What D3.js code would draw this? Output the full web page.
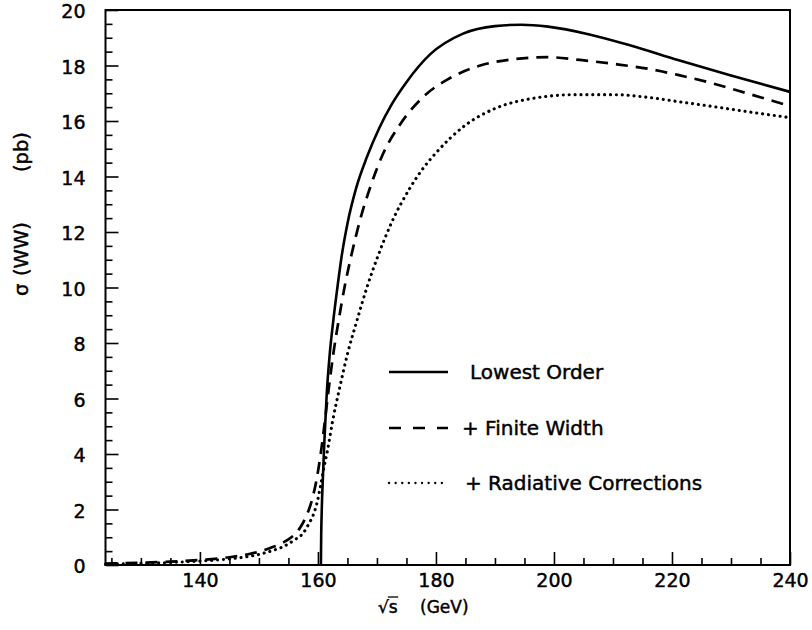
<!DOCTYPE html>
<html>
<head>
<meta charset="utf-8">
<script src="https://cdn.jsdelivr.net/npm/d3@7"></script>
<style>
  html, body { margin: 0; padding: 0; background: #fff; }
  svg text { font-family: "DejaVu Sans", "Liberation Sans", Arial, sans-serif; fill: #000; stroke: #000; stroke-width: 0.45px; }
</style>
</head>
<body>
<svg id="chart" width="812" height="630"></svg>
<script>
// Centre-of-mass energy sqrt(s) in GeV and sigma(WW) in pb for each curve
const lowestOrderX = [160.5, 160.55, 160.65, 160.85, 161.1, 161.5, 162.0, 162.6, 163.3, 164.0, 165.0, 166.5, 168.3, 170.4, 172.5, 175, 179, 184.6, 190, 194.5, 199, 206, 213, 221, 230, 240];
const lowestOrderY = [0, 1.0, 2.0, 3.2, 4.5, 6.2, 7.6, 8.8, 10.0, 11.1, 12.3, 13.6, 14.7, 15.75, 16.6, 17.4, 18.4, 19.15, 19.42, 19.47, 19.4, 19.12, 18.72, 18.2, 17.64, 17.05];

const finiteWidthX = [124, 130, 135, 140, 145, 148, 150, 152, 154, 155.5, 157, 158, 159, 159.7, 160.4, 160.9, 161.8, 162.6, 163.5, 164.5, 165.6, 167.1, 169, 171, 174, 178, 182, 187.5, 193, 199, 204.4, 210, 216, 221, 227, 233, 240];
const finiteWidthY = [0.05, 0.08, 0.12, 0.18, 0.28, 0.38, 0.48, 0.62, 0.8, 1.0, 1.35, 1.75, 2.35, 3.0, 3.9, 4.7, 6.3, 7.6, 8.8, 10.0, 11.1, 12.4, 13.7, 14.8, 15.9, 16.9, 17.5, 18.0, 18.22, 18.3, 18.2, 18.06, 17.88, 17.66, 17.35, 16.98, 16.54];

const radiativeX = [124, 130, 135, 140, 145, 148, 150, 152, 154, 156, 157.5, 158.5, 159.2, 159.8, 160.4, 161, 161.6, 162.5, 163.7, 165, 166.6, 168.3, 170.2, 172.5, 175.5, 177.5, 180, 185, 190, 196, 204, 210, 216, 221, 227, 233, 240];
const radiativeY = [0.03, 0.06, 0.09, 0.14, 0.22, 0.3, 0.38, 0.5, 0.65, 0.9, 1.15, 1.5, 1.8, 2.2, 2.8, 3.5, 4.1, 5.2, 6.4, 7.6, 8.8, 10.0, 11.15, 12.35, 13.55, 14.2, 14.85, 15.85, 16.45, 16.8, 16.95, 16.95, 16.85, 16.7, 16.52, 16.33, 16.12];

const xTickValues = [140, 160, 180, 200, 220, 240];
const yTickValues = [0, 2, 4, 6, 8, 10, 12, 14, 16, 18, 20];
const legendLabels = ["Lowest Order", "+ Finite Width", "+ Radiative Corrections"];

const svg = d3.select("#chart");
const x = d3.scaleLinear().domain([124, 240]).range([105.5, 790]);
const y = d3.scaleLinear().domain([0, 20]).range([565, 10]);

// minor ticks every 5 GeV and every 0.5 pb
const xMinor = d3.range(125, 240, 5).filter(v => v % 20 !== 0);
const yMinor = d3.range(0.5, 20, 0.5).filter(v => v % 2 !== 0);

const axisStyle = g => {
  g.select(".domain").remove();
  g.selectAll(".tick line").attr("stroke", "#000").attr("stroke-width", 1.6);
};

svg.append("g")
  .attr("transform", `translate(0,${y(0)})`)
  .call(d3.axisBottom(x).tickValues(xMinor).tickSize(-7).tickFormat(""))
  .call(axisStyle);
svg.append("g")
  .attr("transform", `translate(${x.range()[0]},0)`)
  .call(d3.axisLeft(y).tickValues(yMinor).tickSize(-7).tickFormat(""))
  .call(axisStyle);

const xAxis = svg.append("g")
  .attr("transform", `translate(0,${y(0)})`)
  .call(d3.axisBottom(x).tickValues(xTickValues).tickSize(-13).tickPadding(9).tickFormat(d3.format("d")))
  .call(axisStyle);
xAxis.selectAll("text").attr("font-size", 19).attr("font-family", null);

const yAxis = svg.append("g")
  .attr("transform", `translate(${x.range()[0]},0)`)
  .call(d3.axisLeft(y).tickValues(yTickValues).tickSize(-13).tickPadding(20).tickFormat(d3.format("d")))
  .call(axisStyle);
yAxis.selectAll("text").attr("font-size", 19).attr("font-family", null).attr("dy", "0.42em");

// curves
const line = d3.line().x(d => x(d[0])).y(d => y(d[1])).curve(d3.curveMonotoneX);
const series = [
  { xs: lowestOrderX, ys: lowestOrderY, dash: null, width: 2.6, cap: "butt" },
  { xs: finiteWidthX, ys: finiteWidthY, dash: "12 8", width: 2.7, cap: "butt" },
  { xs: radiativeX, ys: radiativeY, dash: "0.1 5.8", width: 3.1, cap: "round" }
];
const plot = svg.append("g");
series.forEach(s => {
  plot.append("path")
    .datum(d3.zip(s.xs, s.ys))
    .attr("fill", "none")
    .attr("stroke", "#000")
    .attr("stroke-width", s.width)
    .attr("stroke-linecap", s.cap)
    .attr("stroke-dasharray", s.dash)
    .attr("d", line);
});

// frame
svg.append("rect")
  .attr("x", x.range()[0]).attr("y", y.range()[1])
  .attr("width", x.range()[1] - x.range()[0])
  .attr("height", y.range()[0] - y.range()[1])
  .attr("fill", "none").attr("stroke", "#000").attr("stroke-width", 2);

// legend
const legendRows = [
  { y: 372, textX: 470, dash: null, width: 2.6, cap: "butt" },
  { y: 428, textX: 462, dash: "12 12", width: 2.6, cap: "butt" },
  { y: 483, textX: 465, dash: "0.1 6.5", width: 2.3, cap: "round" }
];
legendRows.forEach((r, i) => {
  svg.append("line")
    .attr("x1", 389).attr("x2", 448).attr("y1", r.y).attr("y2", r.y)
    .attr("stroke", "#000").attr("stroke-width", r.width)
    .attr("stroke-linecap", r.cap).attr("stroke-dasharray", r.dash);
  svg.append("text")
    .attr("x", r.textX).attr("y", r.y).attr("dy", "0.36em")
    .attr("font-size", 20)
    .text(legendLabels[i]);
});

// axis titles
const xTitle = svg.append("text")
  .attr("x", 378).attr("y", 613)
  .attr("font-size", 17);
xTitle.append("tspan").text("√");
xTitle.append("tspan").attr("class", "sarg").text("s");
xTitle.append("tspan").attr("x", 420).text("(GeV)");
const sNode = xTitle.select(".sarg").node();
const sStart = sNode.getStartPositionOfChar(0).x;
const sEnd = sNode.getEndPositionOfChar(0).x;
svg.append("line")
  .attr("x1", sStart - 1).attr("x2", sEnd + 0.5)
  .attr("y1", 597).attr("y2", 597)
  .attr("stroke", "#000").attr("stroke-width", 1.3);

// vertical title, read bottom to top
const yTitle = svg.append("text")
  .attr("transform", "translate(28,296) rotate(-90)")
  .attr("font-size", 19.5);
yTitle.append("tspan").attr("x", 0).text("σ");
yTitle.append("tspan").attr("x", 20).text("(WW)");
yTitle.append("tspan").attr("x", 124).text("(pb)");
</script>
</body>
</html>
